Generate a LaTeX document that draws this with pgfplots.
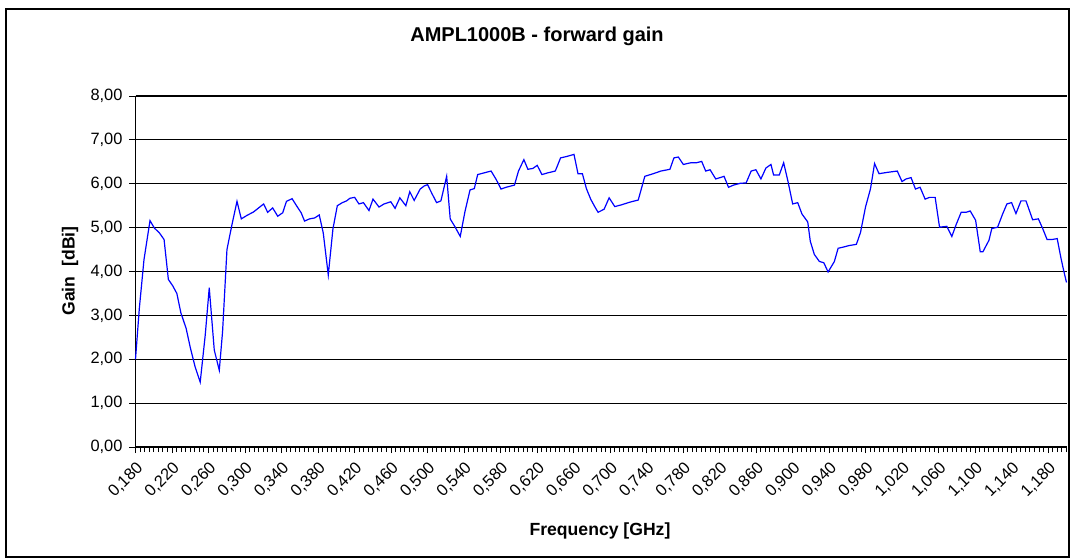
\documentclass[border=0pt]{standalone}
\usepackage{pgfplots}
\pgfplotsset{compat=1.18}
\usepackage{fontspec}
\setmainfont{Liberation Sans}
\begin{document}
\begin{tikzpicture}
\useasboundingbox (0,0) rectangle (535.5pt,-279pt);
\draw[line width=0.7pt] (3pt,-4.5pt) rectangle (534.5pt,-278.5pt);
\begin{axis}[
  scale only axis,
  width=465.5pt, height=175.5pt,
  at={(67.75pt,-223.5pt)}, anchor=south west,
  xmin=0.18, xmax=1.2, ymin=0, ymax=8,
  axis lines*=left,
  axis line style={-, line width=0.6pt, black},
  ytick={0,1,2,3,4,5,6,7,8},
  xtick={0.18,0.22,0.26,0.30,0.34,0.38,0.42,0.46,0.50,0.54,0.58,0.62,0.66,0.70,0.74,0.78,0.82,0.86,0.90,0.94,0.98,1.02,1.06,1.10,1.14,1.18},
  minor xtick={0.185,0.19,...,1.2},
  tick align=outside,
  major tick length=3pt,
  minor tick length=2.5pt,
  every tick/.style={black, line width=0.5pt},
  ymajorgrids,
  major grid style={black, line width=0.55pt},
  /pgf/number format/assume math mode=true,
  yticklabel style={/pgf/number format/fixed, /pgf/number format/fixed zerofill, /pgf/number format/precision=2, /pgf/number format/use comma, font=\fontsize{8.2}{9}\selectfont},
  xticklabel style={/pgf/number format/fixed, /pgf/number format/fixed zerofill, /pgf/number format/precision=3, /pgf/number format/use comma, rotate=45, anchor=north east, font=\fontsize{8.2}{9}\selectfont, xshift=-1.5pt, yshift=-1.5pt, inner sep=1pt},
  clip=false,
]
\addplot[blue, line width=0.6pt, mark=none] coordinates {
(0.180,2.00) (0.1842,3.16) (0.1893,4.27) (0.1959,5.16) (0.2007,4.99) (0.2062,4.88)
(0.2113,4.73) (0.2160,3.82) (0.2209,3.67) (0.2253,3.50) (0.2297,3.06) (0.2355,2.70)
(0.2399,2.28) (0.2454,1.82) (0.2509,1.48) (0.2564,2.55) (0.2608,3.63) (0.2663,2.21)
(0.2718,1.75) (0.2754,2.63) (0.2802,4.50) (0.2857,5.07) (0.2912,5.60) (0.2959,5.20)
(0.3022,5.28) (0.3095,5.36) (0.3149,5.45) (0.3204,5.54) (0.3248,5.35) (0.3303,5.45)
(0.3358,5.26) (0.3413,5.34) (0.3454,5.60) (0.3516,5.66) (0.3564,5.50) (0.3615,5.34)
(0.3652,5.15) (0.3707,5.20) (0.3762,5.22) (0.3813,5.29) (0.3857,4.88) (0.3912,3.92)
(0.3963,4.97) (0.4011,5.50) (0.4066,5.57) (0.4113,5.61) (0.4149,5.67) (0.4201,5.69)
(0.4248,5.54) (0.4297,5.57) (0.4358,5.39) (0.4402,5.65) (0.4468,5.47) (0.4523,5.54)
(0.4597,5.59) (0.4644,5.44) (0.4696,5.68) (0.4762,5.50) (0.4805,5.82) (0.4853,5.62)
(0.4919,5.88) (0.4963,5.95) (0.5000,5.98) (0.5047,5.78) (0.5099,5.57) (0.5146,5.61)
(0.5209,6.17) (0.5248,5.20) (0.5300,5.02) (0.5358,4.80) (0.5410,5.37) (0.5465,5.86)
(0.5512,5.89) (0.5549,6.21) (0.5622,6.25) (0.5696,6.29) (0.5751,6.10) (0.5805,5.88)
(0.5860,5.92) (0.5952,5.97) (0.5996,6.29) (0.6055,6.55) (0.6099,6.33) (0.6154,6.35)
(0.6201,6.42) (0.6253,6.21) (0.6319,6.25) (0.6399,6.29) (0.6457,6.59) (0.6520,6.62)
(0.6604,6.67) (0.6648,6.23) (0.6696,6.23) (0.6740,5.89) (0.6787,5.65) (0.6831,5.48)
(0.6868,5.35) (0.6934,5.42) (0.6989,5.68) (0.7051,5.48) (0.7124,5.52) (0.7215,5.58)
(0.7308,5.63) (0.7380,6.17) (0.7473,6.23) (0.7556,6.29) (0.7655,6.33) (0.7699,6.59)
(0.7747,6.61) (0.7802,6.44) (0.7886,6.48) (0.7948,6.48) (0.8003,6.51) (0.8047,6.29)
(0.8095,6.32) (0.8157,6.11) (0.8204,6.14) (0.8248,6.17) (0.8297,5.92) (0.8352,5.97)
(0.8424,6.01) (0.8490,6.02) (0.8545,6.29) (0.8597,6.32) (0.8652,6.11) (0.8707,6.36)
(0.8762,6.44) (0.8791,6.20) (0.8853,6.20) (0.8901,6.48) (0.8949,6.05) (0.9000,5.54)
(0.9055,5.57) (0.9102,5.31) (0.9165,5.13) (0.9193,4.69) (0.9237,4.39) (0.9292,4.23)
(0.9341,4.20) (0.9388,3.99) (0.9457,4.23) (0.9498,4.53) (0.9560,4.56) (0.9615,4.59)
(0.9698,4.62) (0.9743,4.89) (0.9798,5.47) (0.9853,5.89) (0.9897,6.46) (0.9946,6.23)
(1.0037,6.26) (1.0146,6.29) (1.0198,6.05) (1.0242,6.11) (1.0297,6.14) (1.0345,5.88)
(1.0396,5.92) (1.0451,5.65) (1.0499,5.69) (1.0561,5.69) (1.0609,5.01) (1.0688,5.03)
(1.0744,4.80) (1.0791,5.07) (1.0846,5.35) (1.0901,5.35) (1.0945,5.38) (1.1004,5.17)
(1.1055,4.45) (1.1084,4.45) (1.1150,4.71) (1.1182,4.98) (1.1245,5.01) (1.1300,5.31)
(1.1347,5.54) (1.1398,5.57) (1.1446,5.32) (1.1501,5.61) (1.1556,5.61) (1.1629,5.18)
(1.1692,5.20) (1.1739,4.98) (1.1787,4.73) (1.1842,4.73) (1.1898,4.75) (1.1937,4.33)
(1.1967,4.04) (1.2000,3.75)
};
\end{axis}
\node[font=\bfseries\fontsize{10}{12}\selectfont] at (268.5pt,-18pt) {AMPL1000B - forward gain};
\node[font=\bfseries\fontsize{8.8}{10}\selectfont, rotate=90] at (35pt,-135.5pt) {Gain\ \ [dBi]};
\node[font=\bfseries\fontsize{8.8}{10}\selectfont] at (300pt,-265.5pt) {Frequency [GHz]};
\end{tikzpicture}
\end{document}
